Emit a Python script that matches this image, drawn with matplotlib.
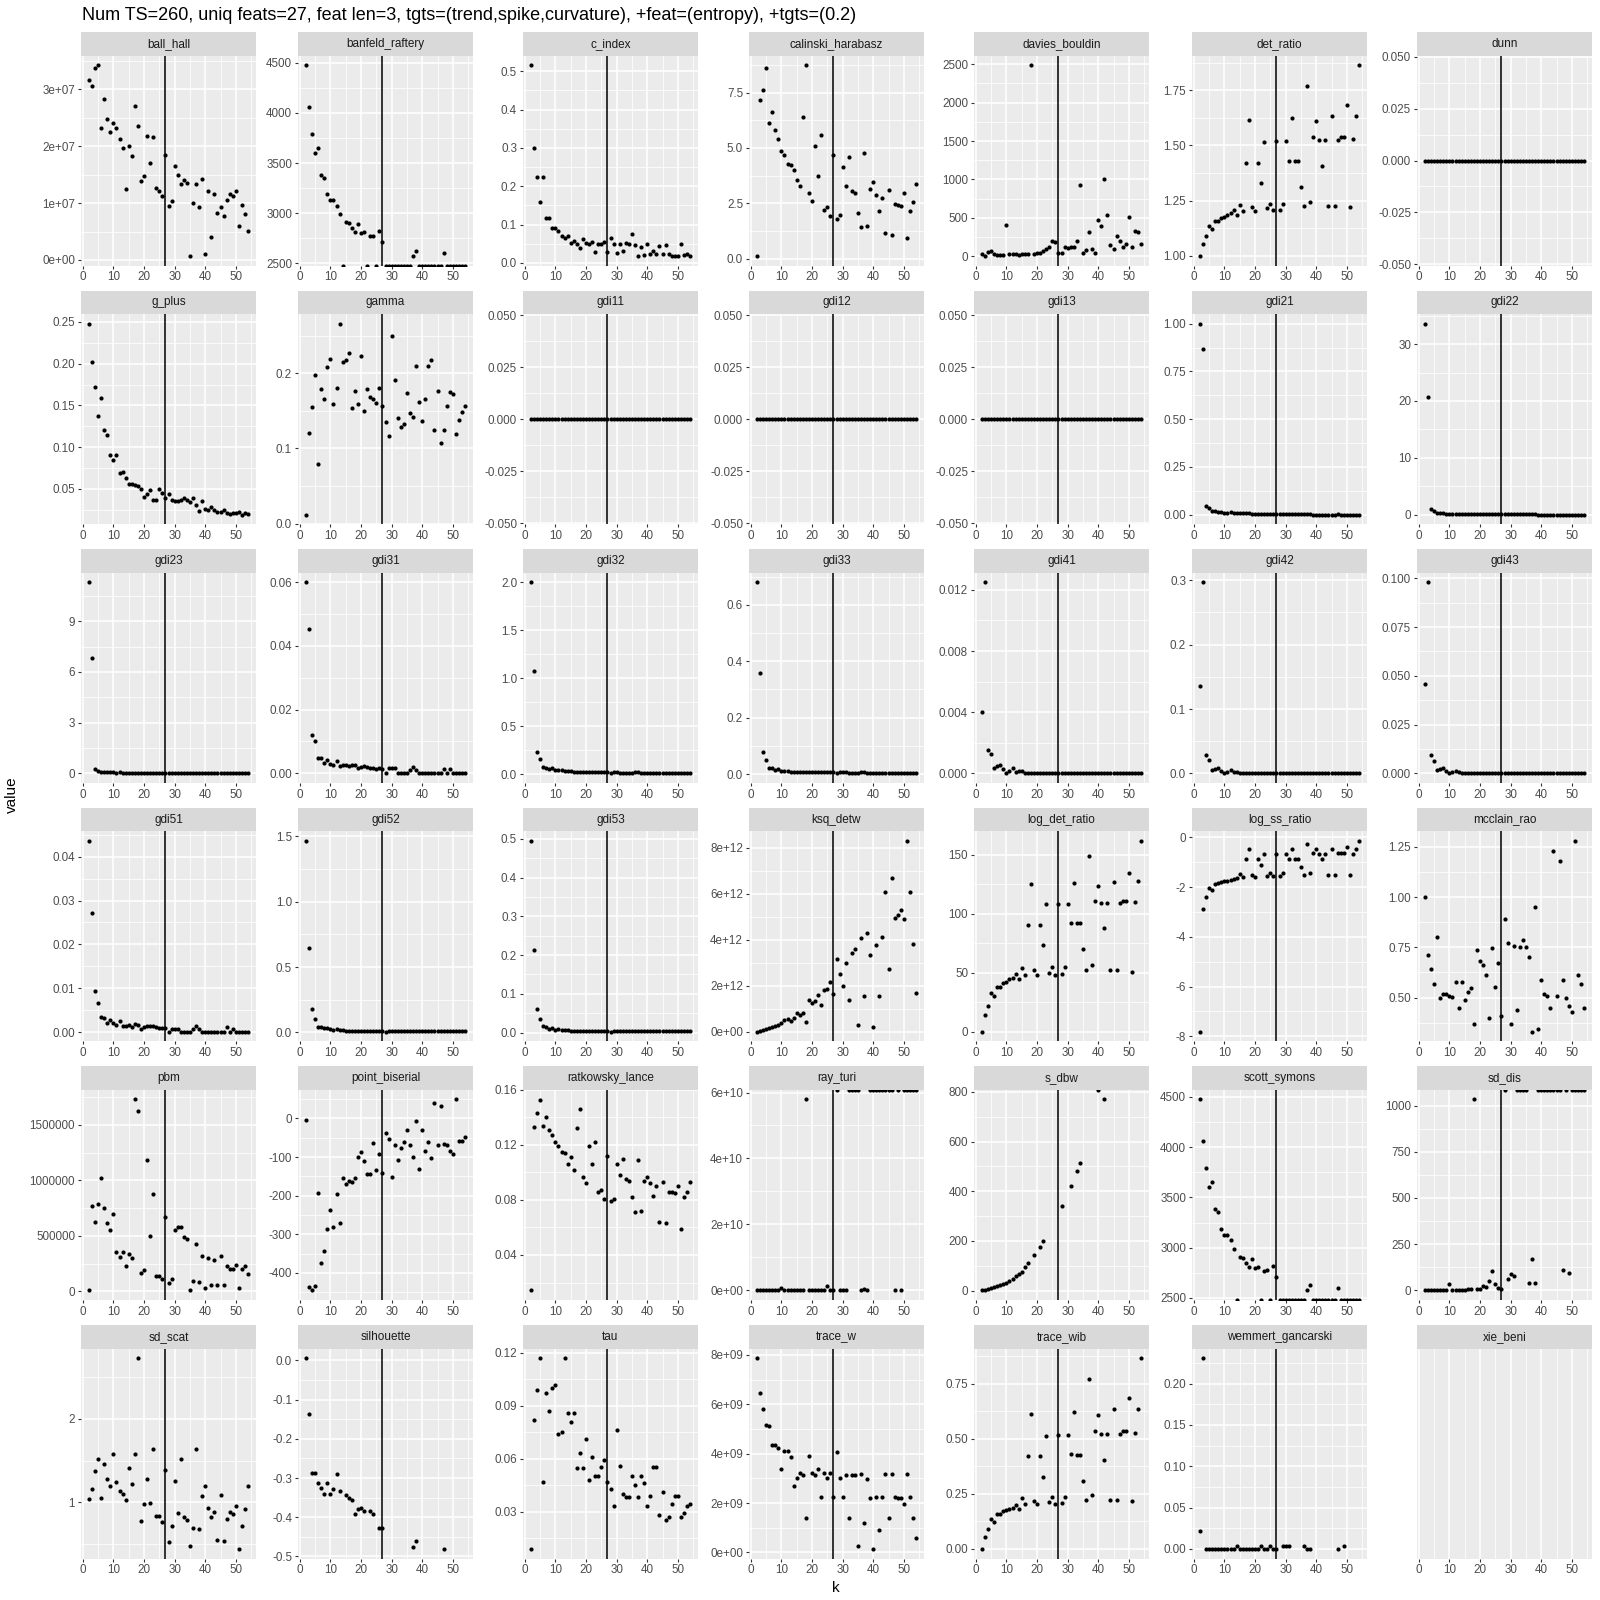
import numpy as np
import matplotlib
matplotlib.use("Agg")
import matplotlib.pyplot as plt

inf = np.inf
nan = np.nan

# ---- data (k = number of clusters) ----
k = list(range(2, 55))
best_k = 27

title = ("Num TS=260, uniq feats=27, feat len=3, tgts=(trend,spike,curvature), "
         "+feat=(entropy), +tgts=(0.2)")

ball_hall = [3.16, 3.06, 3.37, 3.43, 2.33, 2.84, 2.48, 2.26, 2.41, 2.32,
             2.13, 1.97, 1.25, 2.01, 1.83, 2.71, 2.35, 1.39, 1.47, 2.19,
             1.71, 2.17, 1.27, 1.21, 1.13, 1.85, 0.95, 1.04, 1.66, 1.49,
             1.33, 1.40, 1.36, 0.07, 1.00, 1.33, 0.94, 1.42, 0.11, 1.22,
             0.40, 1.16, 0.82, 0.94, 0.78, 1.06, 1.16, 1.13, 1.21, 0.59,
             0.96, 0.80, 0.51]  # x 1e7
banfeld_raftery = [4475, 4060, 3790, 3600, 3650, 3380, 3350, 3190, 3130, 3135,
                   3075, 2995, -inf, 2910, 2900, 2850, 2810, 2890, 2800, 2810,
                   -inf, 2770, 2775, -inf, 2820, 2710, -inf, -inf, -inf, -inf,
                   -inf, -inf, -inf, -inf, -inf, 2575, 2620, -inf, -inf, -inf,
                   -inf, -inf, -inf, -inf, -inf, 2600, -inf, -inf, -inf, -inf,
                   -inf, -inf, -inf]
c_index = [0.516, 0.30, 0.225, 0.16, 0.225, 0.117, 0.117, 0.092, 0.09, 0.083,
           0.07, 0.065, 0.07, 0.053, 0.058, 0.048, 0.038, 0.062, 0.053, 0.05,
           0.055, 0.028, 0.049, 0.049, 0.055, 0.029, 0.066, 0.049, 0.027, 0.049,
           0.032, 0.051, 0.049, 0.076, 0.047, 0.019, 0.041, 0.021, 0.048, 0.024,
           0.032, 0.024, 0.044, 0.024, 0.046, 0.024, 0.019, 0.018, 0.018, 0.048,
           0.02, 0.023, 0.019]
calinski_harabasz = [0.12, 7.17, 7.63, 8.6, 6.14, 6.64, 5.79, 5.38, 4.88, 4.68,
                     4.29, 4.24, 4.01, 3.53, 3.28, 6.41, 8.74, 2.95, 2.58, 5.07,
                     3.72, 5.56, 2.2, 2.31, 1.91, 4.66, 1.78, 1.96, 4.13, 3.28,
                     4.59, 3.05, 2.95, 2.07, 1.44, 4.79, 1.49, 3.13, 3.45, 2.89,
                     2.16, 2.74, 1.14, 3.12, 1.08, 2.46, 2.43, 2.39, 2.95, 0.93,
                     2.16, 2.54, 3.37]
davies_bouldin = [26, 4, 61, 74, 26, 18, 13, 18, 403, 31,
                  26, 26, 13, 26, 35, 35, 2490, 31, 48, 39,
                  70, 92, 127, 193, 184, 39, 44, 123, 110, 127,
                  127, 197, 932, 44, 88, 315, 92, 48, 477, 390,
                  1002, 538, 149, 92, 263, 193, 127, 158, 512, 118,
                  333, 320, 162]
det_ratio = [1.00, 1.056, 1.09, 1.137, 1.122, 1.16, 1.16, 1.172, 1.178, 1.187,
             1.194, 1.206, 1.187, 1.23, 1.203, 1.42, 1.614, 1.221, 1.204, 1.42,
             1.33, 1.517, 1.215, 1.236, 1.207, 1.52, 1.209, 1.236, 1.52, 1.43,
             1.623, 1.43, 1.43, 1.31, 1.224, 1.77, 1.245, 1.537, 1.61, 1.525,
             1.406, 1.525, 1.226, 1.634, 1.226, 1.525, 1.537, 1.538, 1.684, 1.22,
             1.53, 1.635, 1.864]
dunn = [0, 0, 0, 0, 0, 0, 0, 0, 0, 0, 0, 0, 0, 0, 0, 0, 0, 0, 0, 0, 0, 0, 0, 0, 0, 0, 0,
        0, 0, 0, 0, 0, 0, 0, 0, 0, 0, 0, 0, 0, 0, 0, 0, 0, 0, 0, 0, 0, 0, 0, 0, 0, 0]
g_plus = [0.248, 0.202, 0.172, 0.137, 0.159, 0.12, 0.115, 0.091, 0.085, 0.090,
          0.069, 0.070, 0.063, 0.056, 0.056, 0.054, 0.053, 0.050, 0.040, 0.044,
          0.048, 0.037, 0.037, 0.050, 0.045, 0.039, 0.044, 0.036, 0.035, 0.035,
          0.036, 0.039, 0.036, 0.034, 0.039, 0.031, 0.023, 0.035, 0.026, 0.024,
          0.028, 0.025, 0.022, 0.022, 0.024, 0.021, 0.020, 0.021, 0.021, 0.022,
          0.019, 0.021, 0.020]
gamma = [0.012, 0.121, 0.155, 0.198, 0.079, 0.179, 0.166, 0.208, 0.219, 0.159,
         0.181, 0.266, 0.215, 0.217, 0.227, 0.154, 0.177, 0.159, 0.223, 0.150,
         0.179, 0.168, 0.166, 0.161, 0.180, 0.157, 0.135, 0.117, 0.249, 0.191,
         0.141, 0.128, 0.132, 0.174, 0.147, 0.142, 0.209, 0.162, 0.136, 0.166,
         0.210, 0.218, 0.124, 0.177, 0.107, 0.124, 0.157, 0.175, 0.173, 0.119,
         0.138, 0.149, 0.156]
gdi11 = [0, 0, 0, 0, 0, 0, 0, 0, 0, 0, 0, 0, 0, 0, 0, 0, 0, 0, 0, 0, 0, 0, 0, 0, 0, 0, 0,
         0, 0, 0, 0, 0, 0, 0, 0, 0, 0, 0, 0, 0, 0, 0, 0, 0, 0, 0, 0, 0, 0, 0, 0, 0, 0]
gdi12 = [0, 0, 0, 0, 0, 0, 0, 0, 0, 0, 0, 0, 0, 0, 0, 0, 0, 0, 0, 0, 0, 0, 0, 0, 0, 0, 0,
         0, 0, 0, 0, 0, 0, 0, 0, 0, 0, 0, 0, 0, 0, 0, 0, 0, 0, 0, 0, 0, 0, 0, 0, 0, 0]
gdi13 = [0, 0, 0, 0, 0, 0, 0, 0, 0, 0, 0, 0, 0, 0, 0, 0, 0, 0, 0, 0, 0, 0, 0, 0, 0, 0, 0,
         0, 0, 0, 0, 0, 0, 0, 0, 0, 0, 0, 0, 0, 0, 0, 0, 0, 0, 0, 0, 0, 0, 0, 0, 0, 0]
gdi21 = [1.0, 0.865, 0.046, 0.035, 0.020, 0.018, 0.015, 0.012, 0.010, 0.009,
         0.012, 0.008, 0.008, 0.008, 0.007, 0.008, 0.008, 0.006, 0.006, 0.006,
         0.006, 0.005, 0.005, 0.005, 0.005, 0.004, 0.002, 0.004, 0.004, 0.002,
         0.002, 0.002, 0.002, 0.004, 0.004, 0.004, 0.002, 0.001, 0.001, 0.001,
         0.001, 0.001, 0.001, 0.001, 0.001, 0.002, 0.001, 0.001, 0.001, 0.001,
         0.001, 0.001, 0.001]
gdi22 = [33.6, 20.7, 1.0, 0.6, 0.35, 0.3, 0.25, 0.2, 0.15, 0.15,
         0.2, 0.12, 0.12, 0.1, 0.1, 0.1, 0.1, 0.08, 0.08, 0.08,
         0.08, 0.07, 0.07, 0.07, 0.06, 0.06, 0.05, 0.05, 0.05, 0.05,
         0.05, 0.04, 0.04, 0.04, 0.04, 0.04, 0.04, 0.03, 0.03, 0.03,
         0.03, 0.03, 0.03, 0.03, 0.03, 0.03, 0.03, 0.03, 0.03, 0.03,
         0.03, 0.03, 0.03]
gdi23 = [11.3, 6.8, 0.28, 0.16, 0.10, 0.09, 0.06, 0.06, 0.05, 0.04,
         0.05, 0.04, 0.04, 0.03, 0.03, 0.03, 0.03, 0.03, 0.02, 0.02,
         0.02, 0.02, 0.02, 0.02, 0.02, 0.02, 0.01, 0.01, 0.01, 0.01,
         0.01, 0.01, 0.01, 0.01, 0.01, 0.01, 0.01, 0.01, 0.01, 0.01,
         0.01, 0.01, 0.01, 0.01, 0.01, 0.01, 0.01, 0.01, 0.01, 0.01,
         0.01, 0.01, 0.01]
gdi31 = [0.060, 0.0452, 0.0121, 0.0100, 0.0047, 0.0047, 0.0032, 0.0040, 0.0030, 0.0026,
         0.0037, 0.0024, 0.0026, 0.0025, 0.0022, 0.0027, 0.0027, 0.0016, 0.0019, 0.0022,
         0.0019, 0.0016, 0.0017, 0.0014, 0.0015, 0.0014, 0.0, 0.0015, 0.0015, 0.0015,
         0.0, 0.0, 0.0, 0.0, 0.0011, 0.0018, 0.0010, 0.0, 0.0, 0.0,
         0.0, 0.0, 0.0, 0.0, 0.0, 0.0012, 0.0, 0.0012, 0.0, 0.0,
         0.0, 0.0, 0.0]
gdi32 = [2.0, 1.075, 0.23, 0.155, 0.07, 0.065, 0.05, 0.06, 0.04, 0.04,
         0.045, 0.035, 0.03, 0.03, 0.025, 0.018, 0.02, 0.025, 0.02, 0.02,
         0.018, 0.02, 0.02, 0.022, 0.02, 0.02, 0.01, 0.022, 0.02, 0.015,
         0.012, 0.012, 0.012, 0.015, 0.018, 0.018, 0.015, 0.012, 0.012, 0.012,
         0.012, 0.012, 0.012, 0.012, 0.012, 0.015, 0.012, 0.015, 0.012, 0.012,
         0.012, 0.012, 0.012]
gdi33 = [0.68, 0.357, 0.078, 0.05, 0.022, 0.02, 0.015, 0.017, 0.010, 0.012,
         0.010, 0.008, 0.008, 0.007, 0.006, 0.007, 0.006, 0.006, 0.007, 0.006,
         0.007, 0.006, 0.007, 0.007, 0.008, 0.007, 0.003, 0.007, 0.006, 0.006,
         0.004, 0.004, 0.004, 0.005, 0.006, 0.006, 0.004, 0.004, 0.004, 0.004,
         0.004, 0.004, 0.004, 0.004, 0.005, 0.004, 0.004, 0.004, 0.004, 0.004,
         0.004, 0.004, 0.004]
gdi41 = [0.0040, 0.0125, 0.0015, 0.00128, 0.00035, 0.00048, 0.00055, 0.00025, 0.00002, 0.00012,
         0.00035, 0.0001, 0.00015, 0.00013, 0.00004, 0.00005, 0.00003, 0.00004, 0.00003, 0.00003,
         0.00002, 0.00002, 0.00002, 0.00002, 0.00002, 0.00002, 0.00001, 0.00002, 0.00002, 0.00002,
         0.00001, 0.00001, 0.00001, 0.00001, 0.00001, 0.00001, 0.00001, 0.00001, 0.00001, 0.00001,
         0.00001, 0.00001, 0.00001, 0.00001, 0.00001, 0.00001, 0.00001, 0.00001, 0.00001, 0.00001,
         0.00001, 0.00001, 0.00001]
gdi42 = [0.135, 0.297, 0.029, 0.020, 0.005, 0.007, 0.008, 0.004, 0.001, 0.002,
         0.005, 0.002, 0.002, 0.001, 0.001, 0.001, 0.001, 0.001, 0.001, 0.0005,
         0.0005, 0.0005, 0.0005, 0.0005, 0.0005, 0.0005, 0.0005, 0.0005, 0.0005, 0.0005,
         0.0003, 0.0003, 0.0003, 0.0003, 0.0003, 0.0003, 0.0003, 0.0003, 0.0003, 0.0003,
         0.0003, 0.0003, 0.0003, 0.0003, 0.0003, 0.0003, 0.0003, 0.0003, 0.0003, 0.0003,
         0.0003, 0.0003, 0.0003]
gdi43 = [0.0456, 0.098, 0.0095, 0.0064, 0.0017, 0.0022, 0.0026, 0.0011, 0.0002, 0.0005,
         0.0012, 0.0005, 0.0004, 0.0002, 0.0002, 0.0002, 0.0002, 0.0002, 0.0002, 0.0001,
         0.0001, 0.0001, 0.0001, 0.0001, 0.0001, 0.0001, 0.0001, 0.0001, 0.0001, 0.0001,
         0.0001, 0.0001, 0.0001, 0.0001, 0.0001, 0.0001, 0.0001, 0.0001, 0.0001, 0.0001,
         0.0001, 0.0001, 0.0001, 0.0001, 0.0001, 0.0001, 0.0001, 0.0001, 0.0001, 0.0001,
         0.0001, 0.0001, 0.0001]
gdi51 = [0.0436, 0.0271, 0.0093, 0.0067, 0.0034, 0.0032, 0.0022, 0.0028, 0.0022, 0.0016,
         0.0026, 0.0014, 0.0014, 0.0016, 0.0012, 0.0018, 0.0017, 0.0008, 0.0012, 0.0013,
         0.0013, 0.0014, 0.0012, 0.0010, 0.0010, 0.0010, 0.0001, 0.0008, 0.0008, 0.0008,
         0.0001, 0.0001, 0.0001, 0.0001, 0.0008, 0.0014, 0.0008, 0.0001, 0.0001, 0.0001,
         0.0001, 0.0001, 0.0001, 0.0001, 0.0001, 0.0011, 0.0001, 0.0007, 0.0001, 0.0001,
         0.0001, 0.0001, 0.0001]
gdi52 = [1.465, 0.646, 0.18, 0.105, 0.045, 0.04, 0.03, 0.035, 0.025, 0.02,
         0.025, 0.018, 0.016, 0.014, 0.012, 0.008, 0.01, 0.012, 0.01, 0.01,
         0.01, 0.012, 0.012, 0.012, 0.01, 0.012, 0.005, 0.012, 0.01, 0.008,
         0.008, 0.008, 0.01, 0.012, 0.012, 0.012, 0.01, 0.008, 0.008, 0.008,
         0.008, 0.008, 0.008, 0.008, 0.008, 0.01, 0.008, 0.01, 0.008, 0.008,
         0.008, 0.008, 0.008]
gdi53 = [0.495, 0.2135, 0.06, 0.034, 0.017, 0.014, 0.010, 0.012, 0.007, 0.008,
         0.007, 0.006, 0.006, 0.005, 0.005, 0.004, 0.004, 0.005, 0.004, 0.004,
         0.004, 0.004, 0.004, 0.004, 0.004, 0.004, 0.002, 0.004, 0.004, 0.003,
         0.003, 0.003, 0.003, 0.004, 0.004, 0.004, 0.003, 0.003, 0.003, 0.003,
         0.003, 0.003, 0.003, 0.003, 0.003, 0.004, 0.003, 0.004, 0.003, 0.003,
         0.003, 0.003, 0.003]
ksq_detw = [0.01, 0.04, 0.08, 0.12, 0.17, 0.21, 0.26, 0.30, 0.38, 0.50,
            0.58, 0.47, 0.62, 0.83, 0.72, 0.83, 0.42, 1.39, 1.27, 1.36,
            1.60, 1.16, 1.82, 1.86, 2.15, 1.64, 3.18, 2.52, 2.00, 2.99,
            1.39, 3.44, 3.60, 0.31, 4.08, 1.58, 4.28, 3.35, 0.20, 3.76,
            1.55, 4.14, 6.10, 2.74, 6.68, 4.96, 5.10, 5.30, 4.89, 8.30,
            6.08, 3.84, 1.70]  # x 1e12
log_det_ratio = [0, 14, 22, 33, 30, 38, 38, 41, 42, 45,
                 46, 49, 45, 54, 48, 91, 125, 52, 48, 91,
                 74, 108, 50, 55, 48, 108, 49, 55, 108, 92,
                 126, 92, 92, 70, 52, 149, 57, 111, 124, 109,
                 88, 109, 52, 127, 52, 109, 111, 111, 135, 51,
                 110, 128, 162]
log_ss_ratio = [-7.82, -2.89, -2.41, -2.02, -2.12, -1.86, -1.84, -1.80, -1.76, -1.74,
                -1.71, -1.68, -1.63, -1.48, -1.60, -0.86, -0.47, -1.52, -1.60, -0.86,
                -1.12, -0.68, -1.55, -1.45, -1.57, -0.68, -1.57, -1.45, -0.68, -0.86,
                -0.47, -0.86, -0.86, -1.18, -1.52, -0.27, -1.44, -0.61, -0.47, -0.66,
                -0.89, -0.66, -1.50, -0.45, -1.50, -0.62, -0.62, -0.62, -0.38, -1.52,
                -0.65, -0.46, -0.14]
mcclain_rao = [1.0, 0.71, 0.64, 0.57, 0.80, 0.50, 0.52, 0.52, 0.51, 0.505,
               0.58, 0.45, 0.58, 0.49, 0.53, 0.55, 0.37, 0.735, 0.68, 0.66,
               0.61, 0.40, 0.745, 0.555, 0.67, 0.41, 0.89, 0.77, 0.37, 0.755,
               0.44, 0.75, 0.785, 0.75, 0.70, 0.33, 0.95, 0.345, 0.59, 0.52,
               0.51, 0.45, 1.23, 0.51, 1.18, 0.59, 0.50, 0.46, 0.43, 1.28,
               0.61, 0.57, 0.45]
pbm = [0.01, 0.77, 0.625, 0.79, 1.02, 0.75, 0.62, 0.55, 0.70, 0.355,
       0.31, 0.355, 0.23, 0.34, 0.30, 1.73, 1.63, 0.17, 0.195, 1.18,
       0.50, 0.88, 0.14, 0.14, 0.115, 0.675, 0.075, 0.11, 0.55, 0.58,
       0.58, 0.49, 0.47, 0.01, 0.09, 0.43, 0.085, 0.32, 0.03, 0.30,
       0.055, 0.285, 0.06, 0.32, 0.06, 0.23, 0.20, 0.20, 0.24, 0.035,
       0.20, 0.23, 0.16]  # x 1e6
point_biserial = [-5, -436, -445, -435, -192, -374, -344, -286, -236, -280,
                  -195, -272, -155, -170, -163, -165, -155, -99, -88, -111,
                  -143, -143, -64, -133, -93, -141, -37, -54, -152, -69,
                  -108, -76, -62, -29, -68, -101, -8, -131, -30, -84,
                  -62, -102, 40, -68, 32, -65, -70, -84, -91, 49,
                  -58, -58, -49]
ratkowsky_lance = [0.0143, 0.133, 0.143, 0.153, 0.134, 0.140, 0.131, 0.127, 0.122, 0.119,
                   0.115, 0.114, 0.106, 0.111, 0.102, 0.132, 0.146, 0.097, 0.092, 0.119,
                   0.106, 0.122, 0.086, 0.087, 0.081, 0.112, 0.079, 0.081, 0.106, 0.098,
                   0.110, 0.095, 0.094, 0.082, 0.071, 0.109, 0.072, 0.094, 0.097, 0.092,
                   0.083, 0.090, 0.064, 0.093, 0.063, 0.086, 0.086, 0.085, 0.090, 0.059,
                   0.082, 0.086, 0.093]
ray_turi = [0, 0, 0, 0, 0, 0, 0, 0, 0.08, 0,
            0, 0, 0, 0, 0, 0, 5.79, 0, 0, 0,
            0, 0, 0, 0.12, 0, 0, inf, 0, 0, 0,
            inf, inf, inf, inf, 0, 0.04, 0, inf, inf, inf,
            inf, inf, inf, inf, inf, 0, inf, 0, inf, inf,
            inf, inf, inf]  # x 1e10
s_dbw = [1, 4, 8, 12, 14, 17, 21, 25, 31, 38,
         45, 57, 66, 73, 95, 111, nan, 143, nan, 177,
         199, nan, nan, nan, nan, nan, 340, nan, nan, 420,
         nan, 480, 514, nan, nan, nan, nan, nan, inf, nan,
         770, nan, nan, nan, nan, nan, nan, nan, nan, nan,
         nan, nan, nan]
scott_symons = [4475, 4065, 3790, 3600, 3650, 3380, 3352, 3190, 3125, 3130,
                3075, 2990, -inf, 2905, 2895, 2850, 2810, 2890, 2800, 2810,
                -inf, 2765, 2775, -inf, 2815, 2710, -inf, -inf, -inf, -inf,
                -inf, -inf, -inf, -inf, -inf, 2575, 2625, -inf, -inf, -inf,
                -inf, -inf, -inf, -inf, -inf, 2600, -inf, -inf, -inf, -inf,
                -inf, -inf, -inf]
sd_dis = [0, 0, 0, 0, 0, 0, 0, 0, 36, 0,
          0, 0, 0, 0, 7, 7, 1033, 7, 7, 22,
          16, 53, 104, 36, 11, 10, inf, 60, 91, 80,
          inf, inf, inf, inf, 38, 168, 38, inf, inf, inf,
          inf, inf, inf, inf, inf, 111, inf, 93, inf, inf,
          inf, inf, inf]
sd_scat = [1.04, 1.16, 1.38, 1.52, 1.05, 1.46, 1.28, 1.19, 1.58, 1.24,
           1.13, 1.10, 1.03, 1.41, 1.22, 1.58, 2.73, 0.77, 0.98, 1.28,
           0.99, 1.64, 0.84, 0.84, 0.76, 1.39, 0.52, 0.72, 1.26, 0.87,
           1.52, 0.82, 0.79, 0.48, 0.69, 1.64, 0.68, 1.08, 1.20, 0.93,
           0.82, 0.88, 0.55, 1.09, 0.53, 0.80, 0.88, 0.86, 0.95, 0.44,
           0.72, 0.92, 1.19]
silhouette = [0.006, -0.136, -0.287, -0.287, -0.313, -0.325, -0.340, -0.314, -0.340, -0.327,
              -0.291, -0.333, nan, -0.343, -0.351, -0.357, -0.391, -0.378, -0.376, -0.383,
              nan, -0.383, -0.391, nan, -0.427, -0.428, nan, nan, nan, nan,
              nan, nan, nan, nan, nan, -0.475, -0.461, nan, nan, nan,
              nan, nan, nan, nan, nan, -0.481, nan, nan, nan, nan,
              nan, nan, nan]
tau = [0.0088, 0.082, 0.099, 0.117, 0.047, 0.097, 0.087, 0.100, 0.102, 0.074,
       0.075, 0.117, 0.086, 0.081, 0.086, 0.0545, 0.063, 0.0545, 0.071, 0.048,
       0.061, 0.050, 0.050, 0.055, 0.059, 0.047, 0.043, 0.033, 0.076, 0.056,
       0.040, 0.038, 0.038, 0.050, 0.045, 0.038, 0.050, 0.046, 0.033, 0.039,
       0.055, 0.055, 0.028, 0.041, 0.025, 0.027, 0.034, 0.039, 0.039, 0.027,
       0.029, 0.033, 0.034]
trace_w = [7.87, 6.44, 5.80, 5.17, 5.13, 4.34, 4.34, 4.23, 3.36, 4.11,
           4.11, 3.85, 2.67, 3.03, 3.23, 3.14, 1.38, 3.89, 3.22, 3.14,
           3.36, 2.26, 3.22, 3.01, 3.22, 2.26, 4.08, 3.01, 2.26, 3.14,
           1.39, 3.14, 3.14, 0.27, 3.16, 1.19, 2.96, 2.21, 0.14, 2.26,
           0.90, 2.26, 3.16, 1.38, 3.16, 2.25, 2.22, 2.22, 1.96, 3.19,
           2.25, 1.38, 0.59]  # x 1e9
trace_wib = [0.0, 0.056, 0.09, 0.135, 0.121, 0.158, 0.16, 0.171, 0.175, 0.183,
             0.188, 0.198, 0.183, 0.23, 0.203, 0.42, 0.614, 0.219, 0.203, 0.42,
             0.327, 0.514, 0.212, 0.235, 0.205, 0.517, 0.208, 0.236, 0.516, 0.43,
             0.62, 0.425, 0.425, 0.31, 0.221, 0.77, 0.244, 0.536, 0.608, 0.52,
             0.404, 0.522, 0.224, 0.634, 0.224, 0.524, 0.536, 0.537, 0.684, 0.22,
             0.526, 0.634, 0.867]
wemmert_gancarski = [0.0215, 0.231, 0, 0, 0, 0, 0, 0, 0, 0,
                     0, 0, 0.004, 0, 0, 0, 0, 0, 0, 0,
                     0.004, 0, 0, 0.004, 0, 0, nan, 0.004, 0.004, 0.004,
                     nan, nan, nan, nan, 0.004, 0, 0, nan, nan, nan,
                     nan, nan, nan, nan, nan, 0, nan, 0.004, nan, nan,
                     nan, nan, nan]
xie_beni = [nan] * 53  # no finite value in this panel

metrics = ["ball_hall", "banfeld_raftery", "c_index", "calinski_harabasz",
           "davies_bouldin", "det_ratio", "dunn",
           "g_plus", "gamma", "gdi11", "gdi12", "gdi13", "gdi21", "gdi22",
           "gdi23", "gdi31", "gdi32", "gdi33", "gdi41", "gdi42", "gdi43",
           "gdi51", "gdi52", "gdi53", "ksq_detw", "log_det_ratio", "log_ss_ratio", "mcclain_rao",
           "pbm", "point_biserial", "ratkowsky_lance", "ray_turi", "s_dbw", "scott_symons", "sd_dis",
           "sd_scat", "silhouette", "tau", "trace_w", "trace_wib", "wemmert_gancarski", "xie_beni"]

values = {
    "ball_hall": np.array(ball_hall) * 1e7,
    "banfeld_raftery": banfeld_raftery, "c_index": c_index,
    "calinski_harabasz": calinski_harabasz, "davies_bouldin": davies_bouldin,
    "det_ratio": det_ratio, "dunn": dunn, "g_plus": g_plus, "gamma": gamma,
    "gdi11": gdi11, "gdi12": gdi12, "gdi13": gdi13, "gdi21": gdi21, "gdi22": gdi22,
    "gdi23": gdi23, "gdi31": gdi31, "gdi32": gdi32, "gdi33": gdi33, "gdi41": gdi41,
    "gdi42": gdi42, "gdi43": gdi43, "gdi51": gdi51, "gdi52": gdi52, "gdi53": gdi53,
    "ksq_detw": np.array(ksq_detw) * 1e12, "log_det_ratio": log_det_ratio,
    "log_ss_ratio": log_ss_ratio, "mcclain_rao": mcclain_rao,
    "pbm": np.array(pbm) * 1e6, "point_biserial": point_biserial,
    "ratkowsky_lance": ratkowsky_lance, "ray_turi": np.array(ray_turi) * 1e10,
    "s_dbw": s_dbw, "scott_symons": scott_symons, "sd_dis": sd_dis,
    "sd_scat": sd_scat, "silhouette": silhouette, "tau": tau,
    "trace_w": np.array(trace_w) * 1e9, "trace_wib": trace_wib,
    "wemmert_gancarski": wemmert_gancarski, "xie_beni": xie_beni,
}

zero_breaks = [-0.05, -0.025, 0, 0.025, 0.05]
breaks = {
    "ball_hall": [0, 1e7, 2e7, 3e7],
    "banfeld_raftery": [2500, 3000, 3500, 4000, 4500],
    "c_index": [0, 0.1, 0.2, 0.3, 0.4, 0.5],
    "calinski_harabasz": [0, 2.5, 5, 7.5],
    "davies_bouldin": [0, 500, 1000, 1500, 2000, 2500],
    "det_ratio": [1, 1.25, 1.5, 1.75],
    "dunn": zero_breaks,
    "g_plus": [0.05, 0.1, 0.15, 0.2, 0.25],
    "gamma": [0, 0.1, 0.2],
    "gdi11": zero_breaks, "gdi12": zero_breaks, "gdi13": zero_breaks,
    "gdi21": [0, 0.25, 0.5, 0.75, 1],
    "gdi22": [0, 10, 20, 30],
    "gdi23": [0, 3, 6, 9],
    "gdi31": [0, 0.02, 0.04, 0.06],
    "gdi32": [0, 0.5, 1, 1.5, 2],
    "gdi33": [0, 0.2, 0.4, 0.6],
    "gdi41": [0, 0.004, 0.008, 0.012],
    "gdi42": [0, 0.1, 0.2, 0.3],
    "gdi43": [0, 0.025, 0.05, 0.075, 0.1],
    "gdi51": [0, 0.01, 0.02, 0.03, 0.04],
    "gdi52": [0, 0.5, 1, 1.5],
    "gdi53": [0, 0.1, 0.2, 0.3, 0.4, 0.5],
    "ksq_detw": [0, 2e12, 4e12, 6e12, 8e12],
    "log_det_ratio": [0, 50, 100, 150],
    "log_ss_ratio": [-8, -6, -4, -2, 0],
    "mcclain_rao": [0.5, 0.75, 1, 1.25],
    "pbm": [0, 500000, 1000000, 1500000],
    "point_biserial": [-400, -300, -200, -100, 0],
    "ratkowsky_lance": [0.04, 0.08, 0.12, 0.16],
    "ray_turi": [0, 2e10, 4e10, 6e10],
    "s_dbw": [0, 200, 400, 600, 800],
    "scott_symons": [2500, 3000, 3500, 4000, 4500],
    "sd_dis": [0, 250, 500, 750, 1000],
    "sd_scat": [1, 2],
    "silhouette": [-0.5, -0.4, -0.3, -0.2, -0.1, 0],
    "tau": [0.03, 0.06, 0.09, 0.12],
    "trace_w": [0, 2e9, 4e9, 6e9, 8e9],
    "trace_wib": [0, 0.25, 0.5, 0.75],
    "wemmert_gancarski": [0, 0.05, 0.1, 0.15, 0.2],
    "xie_beni": [],
}
sci_axes = {"ball_hall", "ksq_detw", "ray_turi", "trace_w"}


def fmt_breaks(b, sci):
    if sci:
        return ["{:.0e}".format(v) for v in b]
    for d in range(0, 5):
        if all(abs(round(v, d) - v) < 1e-12 for v in b):
            break
    return ["{:.{}f}".format(v, d) for v in b]


plt.rcParams["font.family"] = ["Liberation Sans", "DejaVu Sans"]

W, H = 1600, 1600
fig = plt.figure(figsize=(16, 16), dpi=100)

col_left = [81, 298, 523, 749, 974, 1192, 1417]
pw = 175
strip_h = 23.5
ph = 210
row_top = 32
row_step = 258.6

xs = np.array(k, dtype=float)
xlo = xs.min() - 0.05 * (xs.max() - xs.min())
xhi = xs.max() + 0.05 * (xs.max() - xs.min())

for i, name in enumerate(metrics):
    r, c = divmod(i, 7)
    left = col_left[c]
    st = row_top + row_step * r

    sax = fig.add_axes([left / W, 1 - (st + strip_h) / H, pw / W, strip_h / H])
    sax.set_facecolor("#D9D9D9")
    sax.set_xticks([])
    sax.set_yticks([])
    for s in sax.spines.values():
        s.set_visible(False)
    sax.text(0.5, 0.5, name, ha="center", va="center", fontsize=8.5,
             color="#1A1A1A", transform=sax.transAxes)

    ax = fig.add_axes([left / W, 1 - (st + strip_h + ph) / H, pw / W, ph / H])
    ax.set_facecolor("#EBEBEB")
    for s in ax.spines.values():
        s.set_visible(False)
    ax.set_axisbelow(True)

    vals = np.array(values[name], dtype=float)
    fin = vals[np.isfinite(vals)]
    ax.set_xlim(xlo, xhi)
    ax.set_xticks([0, 10, 20, 30, 40, 50])
    ax.set_xticks([5, 15, 25, 35, 45, 55], minor=True)

    if len(fin) == 0:
        ax.set_ylim(0, 1)
        ax.set_yticks([])
        ax.grid(which="major", axis="x", color="white", lw=1.1)
        ax.grid(which="minor", axis="x", color="white", lw=0.55)
    else:
        lo, hi = fin.min(), fin.max()
        if hi == lo:
            ylo, yhi = lo - 0.0505, hi + 0.0505
        else:
            pad = 0.05 * (hi - lo)
            ylo, yhi = lo - pad, hi + pad
        ax.set_ylim(ylo, yhi)
        b = breaks[name]
        ax.set_yticks(b)
        ax.set_yticklabels(fmt_breaks(b, name in sci_axes))
        step = b[1] - b[0]
        minors = [b[0] - step / 2 + step * j for j in range(-1, len(b) + 1)]
        minors = [m for m in minors if ylo <= m <= yhi]
        ax.set_yticks(minors, minor=True)
        ax.grid(which="major", color="white", lw=1.1)
        ax.grid(which="minor", color="white", lw=0.55)

        # infinite values sit on the panel edge, as in ggplot
        shown = np.where(vals == np.inf, yhi, np.where(vals == -np.inf, ylo, vals))
        ax.scatter(xs, shown, s=9, color="black", linewidths=0, zorder=3)
        ax.axvline(best_k, color="black", lw=1.1, zorder=2.5)

    ax.tick_params(which="major", length=2.5, width=0.8, color="#333333",
                   labelsize=8.4, labelcolor="#4D4D4D", pad=1.8)
    ax.tick_params(which="minor", length=0)

fig.text(82 / W, 1 - 15 / H, title, ha="left", va="center", fontsize=13, color="black")
fig.text(12 / W, 1 - 795 / H, "value", rotation=90, ha="center", va="center", fontsize=11)
fig.text(836 / W, 1 - 1588 / H, "k", ha="center", va="center", fontsize=11)

fig.savefig("out.png", dpi=100, facecolor="white")
